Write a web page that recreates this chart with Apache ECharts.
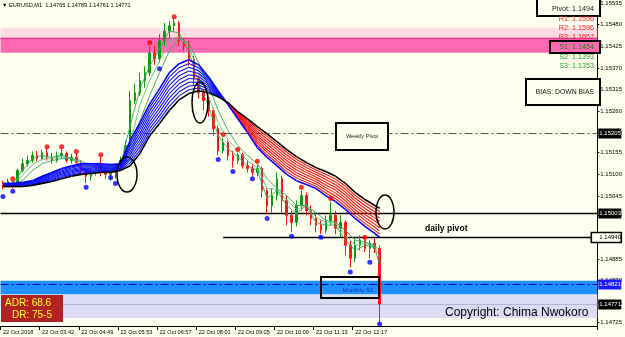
<!DOCTYPE html>
<html><head><meta charset="utf-8">
<script src="https://cdn.jsdelivr.net/npm/echarts@6/dist/echarts.min.js"></script>
<style>html,body{margin:0;padding:0;background:#fffff0}#c{width:625px;height:337px}</style>
</head><body><div id="c"></div>
<script>
// ---- data ----
const xTickLabels = ['22 Oct 2018','22 Oct 03:42','22 Oct 04:49','22 Oct 05:53','22 Oct 06:57','22 Oct 08:01','22 Oct 09:05','22 Oct 10:09','22 Oct 11:13','22 Oct 12:17'];
const yTickValues = [1.14725,1.14775,1.14830,1.14885,1.14940,1.14995,1.15045,1.15100,1.15155,1.15205,1.15260,1.15315,1.15370,1.15425,1.15480,1.15535];
const candleOpen = [1.15077,1.15074,1.15082,1.15072,1.15110,1.15127,1.15135,1.15148,1.15140,1.15155,1.15143,1.15135,1.15148,1.15153,1.15135,1.15143,1.15130,1.15110,1.15095,1.15105,1.15115,1.15105,1.15100,1.15110,1.15115,1.15135,1.15173,1.15287,1.15307,1.15338,1.15358,1.15408,1.15393,1.15439,1.15464,1.15477,1.15484,1.15439,1.15426,1.15393,1.15343,1.15307,1.15287,1.15262,1.15216,1.15160,1.15181,1.15148,1.15135,1.15150,1.15122,1.15115,1.15105,1.15115,1.15059,1.15021,1.15046,1.15089,1.15034,1.14996,1.14978,1.15021,1.15046,1.15008,1.14988,1.14971,1.14958,1.14983,1.14996,1.14963,1.14978,1.14920,1.14887,1.14920,1.14933,1.14912,1.14925,1.14912];
const candleClose = [1.15074,1.15082,1.15072,1.15110,1.15127,1.15135,1.15148,1.15140,1.15155,1.15143,1.15135,1.15148,1.15153,1.15135,1.15143,1.15130,1.15110,1.15095,1.15105,1.15115,1.15105,1.15100,1.15110,1.15115,1.15135,1.15173,1.15287,1.15307,1.15338,1.15358,1.15408,1.15393,1.15439,1.15464,1.15477,1.15484,1.15439,1.15426,1.15393,1.15343,1.15307,1.15287,1.15262,1.15216,1.15160,1.15181,1.15148,1.15135,1.15150,1.15122,1.15115,1.15105,1.15115,1.15059,1.15021,1.15046,1.15089,1.15034,1.14996,1.14978,1.15021,1.15046,1.15008,1.14988,1.14971,1.14958,1.14983,1.14996,1.14963,1.14978,1.14920,1.14887,1.14920,1.14933,1.14912,1.14925,1.14912,1.14771];
const candleLow = [1.15062,1.15069,1.15064,1.15069,1.15105,1.15120,1.15130,1.15133,1.15135,1.15135,1.15127,1.15130,1.15140,1.15130,1.15127,1.15122,1.15100,1.15077,1.15084,1.15097,1.15095,1.15089,1.15084,1.15089,1.15110,1.15127,1.15168,1.15279,1.15300,1.15320,1.15350,1.15378,1.15383,1.15426,1.15446,1.15464,1.15426,1.15413,1.15375,1.15325,1.15292,1.15262,1.15246,1.15198,1.15148,1.15153,1.15135,1.15117,1.15127,1.15115,1.15105,1.15097,1.15095,1.15041,1.14998,1.15003,1.15034,1.15003,1.14971,1.14953,1.14968,1.15008,1.14996,1.14971,1.14953,1.14948,1.14950,1.14971,1.14948,1.14940,1.14895,1.14864,1.14877,1.14907,1.14902,1.14887,1.14900,1.14725];
const candleHigh = [1.15084,1.15089,1.15084,1.15115,1.15140,1.15148,1.15158,1.15160,1.15163,1.15165,1.15155,1.15158,1.15165,1.15158,1.15153,1.15155,1.15135,1.15115,1.15115,1.15125,1.15145,1.15120,1.15122,1.15127,1.15145,1.15186,1.15312,1.15330,1.15358,1.15375,1.15426,1.15426,1.15456,1.15484,1.15489,1.15497,1.15489,1.15446,1.15439,1.15401,1.15350,1.15317,1.15300,1.15269,1.15224,1.15193,1.15186,1.15160,1.15155,1.15155,1.15135,1.15127,1.15125,1.15120,1.15064,1.15064,1.15105,1.15097,1.15046,1.15008,1.15034,1.15059,1.15054,1.15021,1.15003,1.14983,1.14996,1.15031,1.15008,1.14996,1.14983,1.14933,1.14938,1.14945,1.14938,1.14933,1.14938,1.14920];
// moving-average ribbons (read at every 2nd bar)
const maIdx = [0,2,4,6,8,10,12,14,16,18,20,22,24,26,28,30,32,34,36,38,40,42,44,46,48,50,52,54,56,58,60,62,64,66,68,70,72,74,76,77];
const longFast = [1.15077,1.15077,1.15079,1.15084,1.15095,1.15105,1.15115,1.15122,1.15127,1.15127,1.15127,1.15125,1.15127,1.15186,1.15231,1.15279,1.15317,1.15358,1.15381,1.15391,1.15378,1.15348,1.15312,1.15277,1.15241,1.15206,1.15168,1.15143,1.15122,1.15100,1.15084,1.15074,1.15064,1.15046,1.15031,1.15011,1.14988,1.14968,1.14950,1.14940];
const longSlow = [1.15069,1.15069,1.15069,1.15072,1.15077,1.15082,1.15089,1.15095,1.15100,1.15102,1.15105,1.15105,1.15110,1.15122,1.15153,1.15198,1.15229,1.15262,1.15289,1.15305,1.15312,1.15307,1.15297,1.15282,1.15259,1.15241,1.15221,1.15203,1.15183,1.15163,1.15145,1.15130,1.15117,1.15107,1.15095,1.15077,1.15054,1.15036,1.15021,1.15014];
const shortFast = [1.15074,1.15079,1.15110,1.15140,1.15148,1.15143,1.15148,1.15140,1.15122,1.15100,1.15110,1.15105,1.15122,1.15224,1.15317,1.15375,1.15419,1.15464,1.15459,1.15413,1.15332,1.15274,1.15198,1.15165,1.15145,1.15122,1.15110,1.15039,1.15059,1.15021,1.15001,1.15021,1.14978,1.14971,1.14971,1.14933,1.14907,1.14920,1.14915,1.14869];
const shortMid = [1.15074,1.15077,1.15097,1.15125,1.15138,1.15140,1.15145,1.15140,1.15130,1.15110,1.15110,1.15107,1.15115,1.15181,1.15277,1.15338,1.15388,1.15439,1.15451,1.15424,1.15358,1.15300,1.15231,1.15188,1.15160,1.15135,1.15117,1.15064,1.15062,1.15034,1.15011,1.15021,1.14991,1.14978,1.14976,1.14945,1.14920,1.14925,1.14917,1.14890];
const shortSlow = [1.15072,1.15074,1.15084,1.15110,1.15127,1.15135,1.15140,1.15140,1.15135,1.15120,1.15110,1.15107,1.15110,1.15140,1.15236,1.15300,1.15358,1.15413,1.15444,1.15434,1.15383,1.15325,1.15262,1.15211,1.15173,1.15148,1.15127,1.15089,1.15064,1.15046,1.15021,1.15021,1.15003,1.14983,1.14978,1.14958,1.14933,1.14928,1.14920,1.14907];
// fractals
const upFractalIdx = [2,9,12,15,20,30,35,45,48,52,61,67,74];
const upFractalPrice = [1.15089,1.15170,1.15170,1.15158,1.15150,1.15434,1.15500,1.15201,1.15163,1.15133,1.15067,1.15039,1.14940];
const downFractalIdx = [0,2,17,22,23,32,44,47,51,54,59,65,71,75,77];
const downFractalPrice = [1.15044,1.15057,1.15067,1.15092,1.15077,1.15368,1.15138,1.15107,1.15089,1.14988,1.14943,1.14940,1.14852,1.14877,1.14720];
// horizontal levels: price, first bar (null = whole width), axis tag text
const levelPrice = [1.15205, 1.15003, 1.14940, 1.14821, 1.14771, 1.15447];
const levelFrom = [null, null, 45, null, null, null];
const levelTag = ['1.15205', '1.15003', '1.14940', '1.14821', '1.14771', ''];
const pinkLight = [1.15472, 1.15447], pinkStrong = [1.15447, 1.15409];
const blueZone = [1.14830, 1.14795], lavZone = [1.14795, 1.14735];
const nCats = 122;
const categories = Array.from({length: nCats}, (_, i) => String(i));

// styles for the levels (not data)
const levelStyle = [
  {stroke: '#555', lw: 1, dash: [8, 3, 2, 3], tagBg: '#000', tagFg: '#fff', tagBorder: null},
  {stroke: '#000', lw: 1.5, dash: null, tagBg: '#000', tagFg: '#fff', tagBorder: null},
  {stroke: '#000', lw: 1.5, dash: null, tagBg: '#fffff0', tagFg: '#000', tagBorder: '#000'},
  {stroke: '#0000b0', lw: 1, dash: [8, 3, 2, 3], tagBg: '#1a1aff', tagFg: '#fff', tagBorder: null},
  {stroke: '#b4b4d6', lw: 1, dash: null, tagBg: '#000', tagFg: '#fff', tagBorder: null},
  {stroke: '#e0408a', lw: 1.5, dash: null}
];

const chart = echarts.init(document.getElementById('c'), null, {renderer: 'canvas'});
const FONT = 'Liberation Sans';
const candles = candleOpen.map((o, i) => [o, candleClose[i], candleLow[i], candleHigh[i]]);
const pair = (idx, vals) => idx.map((x, k) => [x, vals[k]]);

function ribbonItem(params, api) {
  const k = params.dataIndex;
  if (k >= maIdx.length - 1) return null;
  const f0 = api.coord([maIdx[k], longFast[k]]), s0 = api.coord([maIdx[k], longSlow[k]]);
  const f1 = api.coord([maIdx[k + 1], longFast[k + 1]]), s1 = api.coord([maIdx[k + 1], longSlow[k + 1]]);
  const up = (longFast[k] + longFast[k + 1]) > (longSlow[k] + longSlow[k + 1]);
  const col = up ? '#1010ff' : '#ff1010';
  const ch = [];
  const N = 9;
  for (let j = 1; j < N; j++) {
    const t = j / N;
    ch.push({type: 'line', shape: {x1: s0[0], y1: s0[1] + (f0[1] - s0[1]) * t, x2: s1[0], y2: s1[1] + (f1[1] - s1[1]) * t},
      style: {stroke: col, lineWidth: 1.1}});
  }
  ch.push({type: 'line', shape: {x1: f0[0], y1: f0[1], x2: f1[0], y2: f1[1]}, style: {stroke: '#0000ff', lineWidth: 1.6}});
  ch.push({type: 'line', shape: {x1: s0[0], y1: s0[1], x2: s1[0], y2: s1[1]}, style: {stroke: '#000', lineWidth: 1.6}});
  return {type: 'group', children: ch};
}

function levelItem(params, api) {
  const k = params.dataIndex;
  const cs = params.coordSys;
  const y = Math.round(api.coord([0, levelPrice[k]])[1]) + 0.5;
  const st = levelStyle[k];
  const x1 = levelFrom[k] === null ? cs.x : api.coord([levelFrom[k], levelPrice[k]])[0];
  const x2 = cs.x + cs.width;
  const ch = [{type: 'line', shape: {x1: x1, y1: y, x2: x2, y2: y},
    style: {stroke: st.stroke, lineWidth: st.lw, lineDash: st.dash}}];
  if (levelTag[k]) {
    const bx = st.tagBorder ? x2 - 6 : x2 + 1;
    const bw = st.tagBorder ? 30 : 23;
    ch.push({type: 'rect', shape: {x: bx, y: y - 5, width: bw, height: 10},
      style: {fill: st.tagBg, stroke: st.tagBorder || null, lineWidth: st.tagBorder ? 1.6 : 0}});
    ch.push({type: 'text', x: x2 + 2, y: y, style: {text: levelTag[k], font: '6px "Liberation Sans"', fill: st.tagFg, align: 'left', verticalAlign: 'middle'}});
  }
  return {type: 'group', children: ch};
}

const option = {
  animation: false,
  backgroundColor: '#fffff0',
  grid: {left: 0, right: 24, top: 0, bottom: 11},
  xAxis: {
    type: 'category', data: categories, boundaryGap: true,
    axisLine: {show: true, lineStyle: {color: '#000', width: 1}},
    axisTick: {show: true, length: 4, interval: i => i % 8 === 0 && i / 8 < xTickLabels.length, lineStyle: {color: '#000'}},
    axisLabel: {show: true, interval: i => i % 8 === 0 && i / 8 < xTickLabels.length, align: 'left', margin: 3,
      fontSize: 5.6, fontFamily: FONT, color: '#000',
      formatter: (v, i) => xTickLabels[Math.round(Number(v) / 8)] || ''},
    splitLine: {show: false}
  },
  yAxis: {
    type: 'value', position: 'right', min: 1.14715, max: 1.15540, scale: true,
    axisLine: {show: true, lineStyle: {color: '#000', width: 1}},
    axisTick: {show: true, length: 2, customValues: yTickValues, lineStyle: {color: '#000'}},
    axisLabel: {show: true, customValues: yTickValues, margin: 3, fontSize: 6, fontFamily: FONT, color: '#000',
      formatter: v => Number(v).toFixed(5)},
    splitLine: {show: false}
  },
  series: [
    {
      type: 'line', data: [], silent: true, z: 1,
      markArea: {silent: true, data: [
        [{yAxis: pinkLight[0], itemStyle: {color: '#ffdbe3'}}, {yAxis: pinkLight[1]}],
        [{yAxis: pinkStrong[0], itemStyle: {color: '#ff69b4'}}, {yAxis: pinkStrong[1]}],
        [{yAxis: blueZone[0], itemStyle: {color: '#1e90ff'}}, {yAxis: blueZone[1]}],
        [{yAxis: lavZone[0], itemStyle: {color: '#dcdcf4'}}, {yAxis: lavZone[1]}]
      ]}
    },
    {type: 'custom', data: levelPrice.map(p => [0, p]), encode: {x: 0, y: 1}, renderItem: levelItem, z: 2, silent: true, clip: false},
    {
      type: 'candlestick', data: candles, barWidth: 2, z: 3,
      itemStyle: {color: '#119911', color0: '#ff1515', borderColor: '#119911', borderColor0: '#ff1515', borderWidth: 1}
    },
    {type: 'line', data: pair(maIdx, shortSlow), symbol: 'none', z: 4, lineStyle: {color: '#2fa862', width: 1, opacity: 0.9}},
    {type: 'line', data: pair(maIdx, shortMid), symbol: 'none', z: 4, lineStyle: {color: '#5cc488', width: 1, opacity: 0.9}},
    {type: 'line', data: pair(maIdx, shortFast), symbol: 'none', z: 4, lineStyle: {color: '#2fa862', width: 1, opacity: 0.9}},
    {type: 'custom', data: maIdx.map((x, k) => [x, longFast[k], longSlow[k]]), encode: {x: 0, y: [1, 2]}, renderItem: ribbonItem, z: 5},
    {type: 'scatter', data: pair(upFractalIdx, upFractalPrice), symbolSize: 5, z: 6, itemStyle: {color: '#ff0000'}},
    {type: 'scatter', data: pair(downFractalIdx, downFractalPrice), symbolSize: 5, z: 6, itemStyle: {color: '#0000ff'}}
  ],
  graphic: [
    {type: 'text', left: 2, top: 2, z: 100, style: {text: '▼ EURUSD,M1  1.14765 1.14789 1.14761 1.14771', font: '5.6px "Liberation Sans"', fill: '#000'}},
    {type: 'rect', z: 100, shape: {x: 537, y: -1, width: 63, height: 17}, style: {fill: '#fffff0', stroke: '#000', lineWidth: 2}},
    {type: 'text', z: 101, x: 594, y: 9, style: {text: 'Pivot: 1.1494', font: '7.2px "Liberation Sans"', fill: '#222', align: 'right', verticalAlign: 'middle'}},
    {type: 'text', z: 101, x: 594, y: 19, style: {text: 'R1: 1.1556', font: '7.2px "Liberation Sans"', fill: '#ff2020', align: 'right', verticalAlign: 'middle'}},
    {type: 'text', z: 101, x: 594, y: 28, style: {text: 'R2: 1.1596', font: '7.2px "Liberation Sans"', fill: '#ff2020', align: 'right', verticalAlign: 'middle'}},
    {type: 'text', z: 101, x: 594, y: 37, style: {text: 'R3: 1.1657', font: '7.2px "Liberation Sans"', fill: '#ff2020', align: 'right', verticalAlign: 'middle'}},
    {type: 'rect', z: 100, shape: {x: 550, y: 41, width: 50, height: 12}, style: {fill: '#ff69b4', stroke: '#000', lineWidth: 2}},
    {type: 'text', z: 101, x: 594, y: 47, style: {text: 'S1: 1.1454', font: '7.2px "Liberation Sans"', fill: '#1a7a1a', align: 'right', verticalAlign: 'middle'}},
    {type: 'text', z: 101, x: 594, y: 57, style: {text: 'S2: 1.1393', font: '7.2px "Liberation Sans"', fill: '#2a9a2a', align: 'right', verticalAlign: 'middle'}},
    {type: 'text', z: 101, x: 594, y: 66, style: {text: 'S3: 1.1353', font: '7.2px "Liberation Sans"', fill: '#2a9a2a', align: 'right', verticalAlign: 'middle'}},
    {type: 'rect', z: 100, shape: {x: 526, y: 79, width: 74, height: 26}, style: {fill: '#fffff0', stroke: '#000', lineWidth: 2}},
    {type: 'text', z: 101, x: 594, y: 92, style: {text: 'BIAS: DOWN BIAS', font: '6.8px "Liberation Sans"', fill: '#111', align: 'right', verticalAlign: 'middle'}},
    {type: 'rect', z: 100, shape: {x: 336, y: 123, width: 52, height: 27}, style: {fill: '#fffff0', stroke: '#000', lineWidth: 2}},
    {type: 'text', z: 101, x: 362, y: 136, style: {text: 'Weekly Pivot', font: '5.6px "Liberation Sans"', fill: '#222', align: 'center', verticalAlign: 'middle'}},
    {type: 'rect', z: 100, shape: {x: 321, y: 277, width: 58, height: 21}, style: {fill: 'none', stroke: '#000', lineWidth: 2}},
    {type: 'text', z: 101, x: 358, y: 290, style: {text: 'Monthly S1', font: '6.2px "Liberation Sans"', fill: '#1830c8', align: 'center', verticalAlign: 'middle'}},
    {type: 'text', z: 101, x: 425, y: 229, style: {text: 'daily pivot', font: 'bold 8.6px "Liberation Sans"', fill: '#000', align: 'left', verticalAlign: 'middle'}},
    {type: 'ellipse', z: 100, shape: {cx: 127, cy: 174.5, rx: 10, ry: 17.5}, style: {fill: 'none', stroke: '#000', lineWidth: 1.5}},
    {type: 'ellipse', z: 100, shape: {cx: 200, cy: 102.5, rx: 8, ry: 20.5}, style: {fill: 'none', stroke: '#000', lineWidth: 1.5}},
    {type: 'ellipse', z: 100, shape: {cx: 385, cy: 212, rx: 9, ry: 17}, style: {fill: 'none', stroke: '#000', lineWidth: 1.5}},
    {type: 'rect', z: 100, shape: {x: 1, y: 295, width: 62, height: 27}, style: {fill: '#b22222'}},
    {type: 'text', z: 101, x: 5, y: 303, style: {text: 'ADR: 68.6', font: '10px "Liberation Sans"', fill: '#ffff30', align: 'left', verticalAlign: 'middle'}},
    {type: 'text', z: 101, x: 12, y: 315, style: {text: 'DR: 75-5', font: '10px "Liberation Sans"', fill: '#ffff30', align: 'left', verticalAlign: 'middle'}},
    {type: 'text', z: 101, x: 445, y: 313, style: {text: 'Copyright: Chima Nwokoro', font: '12px "Liberation Sans"', fill: '#000', align: 'left', verticalAlign: 'middle'}}
  ]
};
chart.setOption(option);
</script>
</body></html>
